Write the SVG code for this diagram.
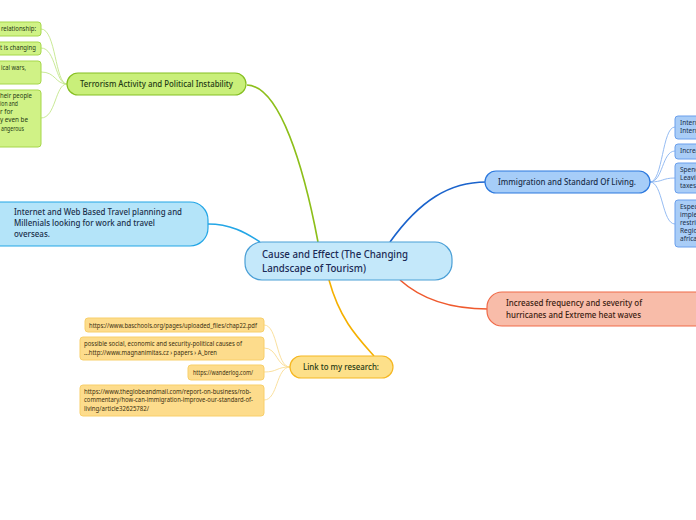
<svg xmlns="http://www.w3.org/2000/svg" width="696" height="520" viewBox="0 0 696 520">
<style>
text{font-family:"Noto Sans","Open Sans","DejaVu Sans",sans-serif}
.main{font-size:9.5px;font-weight:500}
.mi{font-size:8.8px;font-weight:500}
.sm{font-size:7px}
.bs{font-size:6.5px}
.g{fill:#d0f286;stroke:#a6d74a;stroke-width:1}
.gm{fill:#c9ef7a;stroke:#86bf22;stroke-width:1.2}
.b{fill:#a9cdf7;stroke:#6a9fec;stroke-width:1}
.bm{fill:#a6cdf8;stroke:#2b78de;stroke-width:1.2}
.y{fill:#fddc8c;stroke:#f8cf6a;stroke-width:1}
.ym{fill:#fde08a;stroke:#f5b722;stroke-width:1.2}
.tg{fill:#1f3a14}
.tb{fill:#1a2f4a}
.ty{fill:#3a2f10}
.c{fill:none}
</style>
<rect width="696" height="520" fill="#ffffff"/>
<g id="connectors">
<path class="c" d="M247,85 C280,86 304,168 318,242" stroke="#8dbf1a" stroke-width="1.6"/>
<path class="c" d="M390,242 C420,200 450,182 486,182" stroke="#1a63cc" stroke-width="1.6"/>
<path class="c" d="M208,224 C230,224 245,232 260,242" stroke="#23a6e6" stroke-width="1.6"/>
<path class="c" d="M400,280 C420,298 450,309 488,309" stroke="#ef5a2e" stroke-width="1.6"/>
<path class="c" d="M329,280 C340,320 358,338 374,356" stroke="#f5b000" stroke-width="1.6"/>
<g stroke="#c3e68a" stroke-width="0.9" fill="none">
<path d="M67,84 C55,84 56,29 41,29"/>
<path d="M67,84 C55,84 56,48 41,48"/>
<path d="M67,84 C55,84 56,72 41,72"/>
<path d="M67,84 C55,84 56,118 41,118"/>
</g>
<g stroke="#8ab4f0" stroke-width="0.9" fill="none">
<path d="M650,182 C663,182 662,127 675,127"/>
<path d="M650,182 C663,182 662,151 675,151"/>
<path d="M650,182 C663,182 662,178 675,178"/>
<path d="M650,182 C663,182 662,224 675,224"/>
</g>
<g stroke="#f9dc94" stroke-width="0.9" fill="none">
<path d="M290,367 C276,367 278,325 264,325"/>
<path d="M290,367 C276,367 278,348 264,348"/>
<path d="M290,367 C276,367 278,372 264,372"/>
<path d="M290,367 C276,367 278,400 264,400"/>
</g>
</g>
<g id="central">
<rect x="245" y="242" width="207" height="38" rx="17" fill="#c4e8fa" stroke="#4a9fd6" stroke-width="1.2"/>
<text x="262" y="258" font-size="11.5" fill="#1b2a55" font-weight="500" textLength="146" lengthAdjust="spacingAndGlyphs">Cause and Effect (The Changing</text>
<text x="262" y="272" font-size="11.5" fill="#1b2a55" font-weight="500" textLength="104" lengthAdjust="spacingAndGlyphs">Landscape of Tourism)</text>
</g>
<g id="terrorism">
<rect class="gm" x="67" y="73" width="179" height="22" rx="11"/>
<text class="main tg" x="80" y="87" textLength="153" lengthAdjust="spacingAndGlyphs">Terrorism Activity and Political Instability</text>
</g>
<g id="g1"><rect class="g" x="-20" y="22" width="61" height="14" rx="3"/><text class="sm tg" x="1" y="31" textLength="35" lengthAdjust="spacingAndGlyphs">relationship:</text></g>
<g id="g2"><rect class="g" x="-20" y="42" width="61" height="13" rx="3"/><text class="sm tg" x="0" y="50" textLength="36" lengthAdjust="spacingAndGlyphs">t is changing</text></g>
<g id="g3"><rect class="g" x="-20" y="61" width="61" height="23" rx="3"/><text class="sm tg" x="1" y="70" textLength="25" lengthAdjust="spacingAndGlyphs">ical wars,</text></g>
<g id="g4"><rect class="g" x="-20" y="90" width="61" height="57" rx="3"/>
<text class="sm tg" x="0" y="98" textLength="32" lengthAdjust="spacingAndGlyphs">heir people</text>
<text class="sm tg" x="0" y="106" textLength="18" lengthAdjust="spacingAndGlyphs">ion and</text>
<text class="sm tg" x="0" y="114" textLength="13" lengthAdjust="spacingAndGlyphs">r for</text>
<text class="sm tg" x="0" y="122" textLength="28" lengthAdjust="spacingAndGlyphs">y even be</text>
<text class="sm tg" x="1" y="131" textLength="23" lengthAdjust="spacingAndGlyphs">angerous</text>
</g>
<g id="immigration">
<rect class="bm" x="485" y="171" width="165" height="22" rx="11"/>
<text class="main tb" x="498" y="185" textLength="138" lengthAdjust="spacingAndGlyphs">Immigration and Standard Of Living.</text>
</g>
<g id="b1"><rect class="b" x="675" y="116" width="40" height="23" rx="3"/><text class="bs tb" x="680" y="125">Intern</text><text class="bs tb" x="680" y="133">Intern</text></g>
<g id="b2"><rect class="b" x="675" y="144" width="40" height="15" rx="3"/><text class="bs tb" x="680" y="153">Increa</text></g>
<g id="b3"><rect class="b" x="675" y="163" width="40" height="30" rx="3"/><text class="bs tb" x="680" y="172">Spend</text><text class="bs tb" x="680" y="180">Leavin</text><text class="bs tb" x="680" y="188">taxes</text></g>
<g id="b4"><rect class="b" x="675" y="200" width="40" height="47" rx="3"/><text class="bs tb" x="680" y="209">Espec</text><text class="bs tb" x="680" y="217">imple</text><text class="bs tb" x="680" y="225">restri</text><text class="bs tb" x="680" y="233">Regio</text><text class="bs tb" x="680" y="241">africa</text></g>
<g id="internet">
<rect x="-20" y="202" width="228" height="44" rx="18" fill="#b4e4f9" stroke="#23a6e6" stroke-width="1.2"/>
<text class="mi tb" x="14" y="215" textLength="168" lengthAdjust="spacingAndGlyphs">Internet and Web Based Travel planning and</text>
<text class="mi tb" x="14" y="226" textLength="141" lengthAdjust="spacingAndGlyphs">Millenials looking for work and travel</text>
<text class="mi tb" x="14" y="237" textLength="36" lengthAdjust="spacingAndGlyphs">overseas.</text>
</g>
<g id="weather">
<rect x="487" y="292" width="230" height="34" rx="15" fill="#f8bca9" stroke="#f06a48" stroke-width="1.2"/>
<text class="main" fill="#3a2010" x="506" y="306" textLength="136" lengthAdjust="spacingAndGlyphs">Increased frequency and severity of</text>
<text class="main" fill="#3a2010" x="506" y="318" textLength="135" lengthAdjust="spacingAndGlyphs">hurricanes and Extreme heat waves</text>
</g>
<g id="link">
<rect class="ym" x="290" y="356" width="103" height="22" rx="11"/>
<text class="main" fill="#1f3a14" x="303" y="370" textLength="76" lengthAdjust="spacingAndGlyphs">Link to my research:</text>
</g>
<g id="y1"><rect class="y" x="85" y="318" width="179" height="14" rx="3"/><text class="sm ty" x="89" y="327.5" textLength="168" lengthAdjust="spacingAndGlyphs">https://www.baschools.org/pages/uploaded_files/chap22.pdf</text></g>
<g id="y2"><rect class="y" x="80" y="337" width="184" height="23" rx="3"/>
<text class="sm ty" x="84" y="346" textLength="158" lengthAdjust="spacingAndGlyphs">possible social, economic and security-political causes of</text>
<text class="sm ty" x="84" y="354.5" textLength="133" lengthAdjust="spacingAndGlyphs">...http://www.magnanimitas.cz › papers › A_bren</text></g>
<g id="y3"><rect class="y" x="188" y="365" width="76" height="15" rx="3"/><text class="sm ty" x="193" y="375" textLength="60" lengthAdjust="spacingAndGlyphs">https://wanderlog.com/</text></g>
<g id="y4"><rect class="y" x="80" y="385" width="184" height="31" rx="3"/>
<text class="sm ty" x="84" y="393.5" textLength="167" lengthAdjust="spacingAndGlyphs">https://www.theglobeandmail.com/report-on-business/rob-</text>
<text class="sm ty" x="84" y="402" textLength="169" lengthAdjust="spacingAndGlyphs">commentary/how-can-immigration-improve-our-standard-of-</text>
<text class="sm ty" x="84" y="410.5" textLength="65" lengthAdjust="spacingAndGlyphs">living/article32625782/</text></g>
</svg>
